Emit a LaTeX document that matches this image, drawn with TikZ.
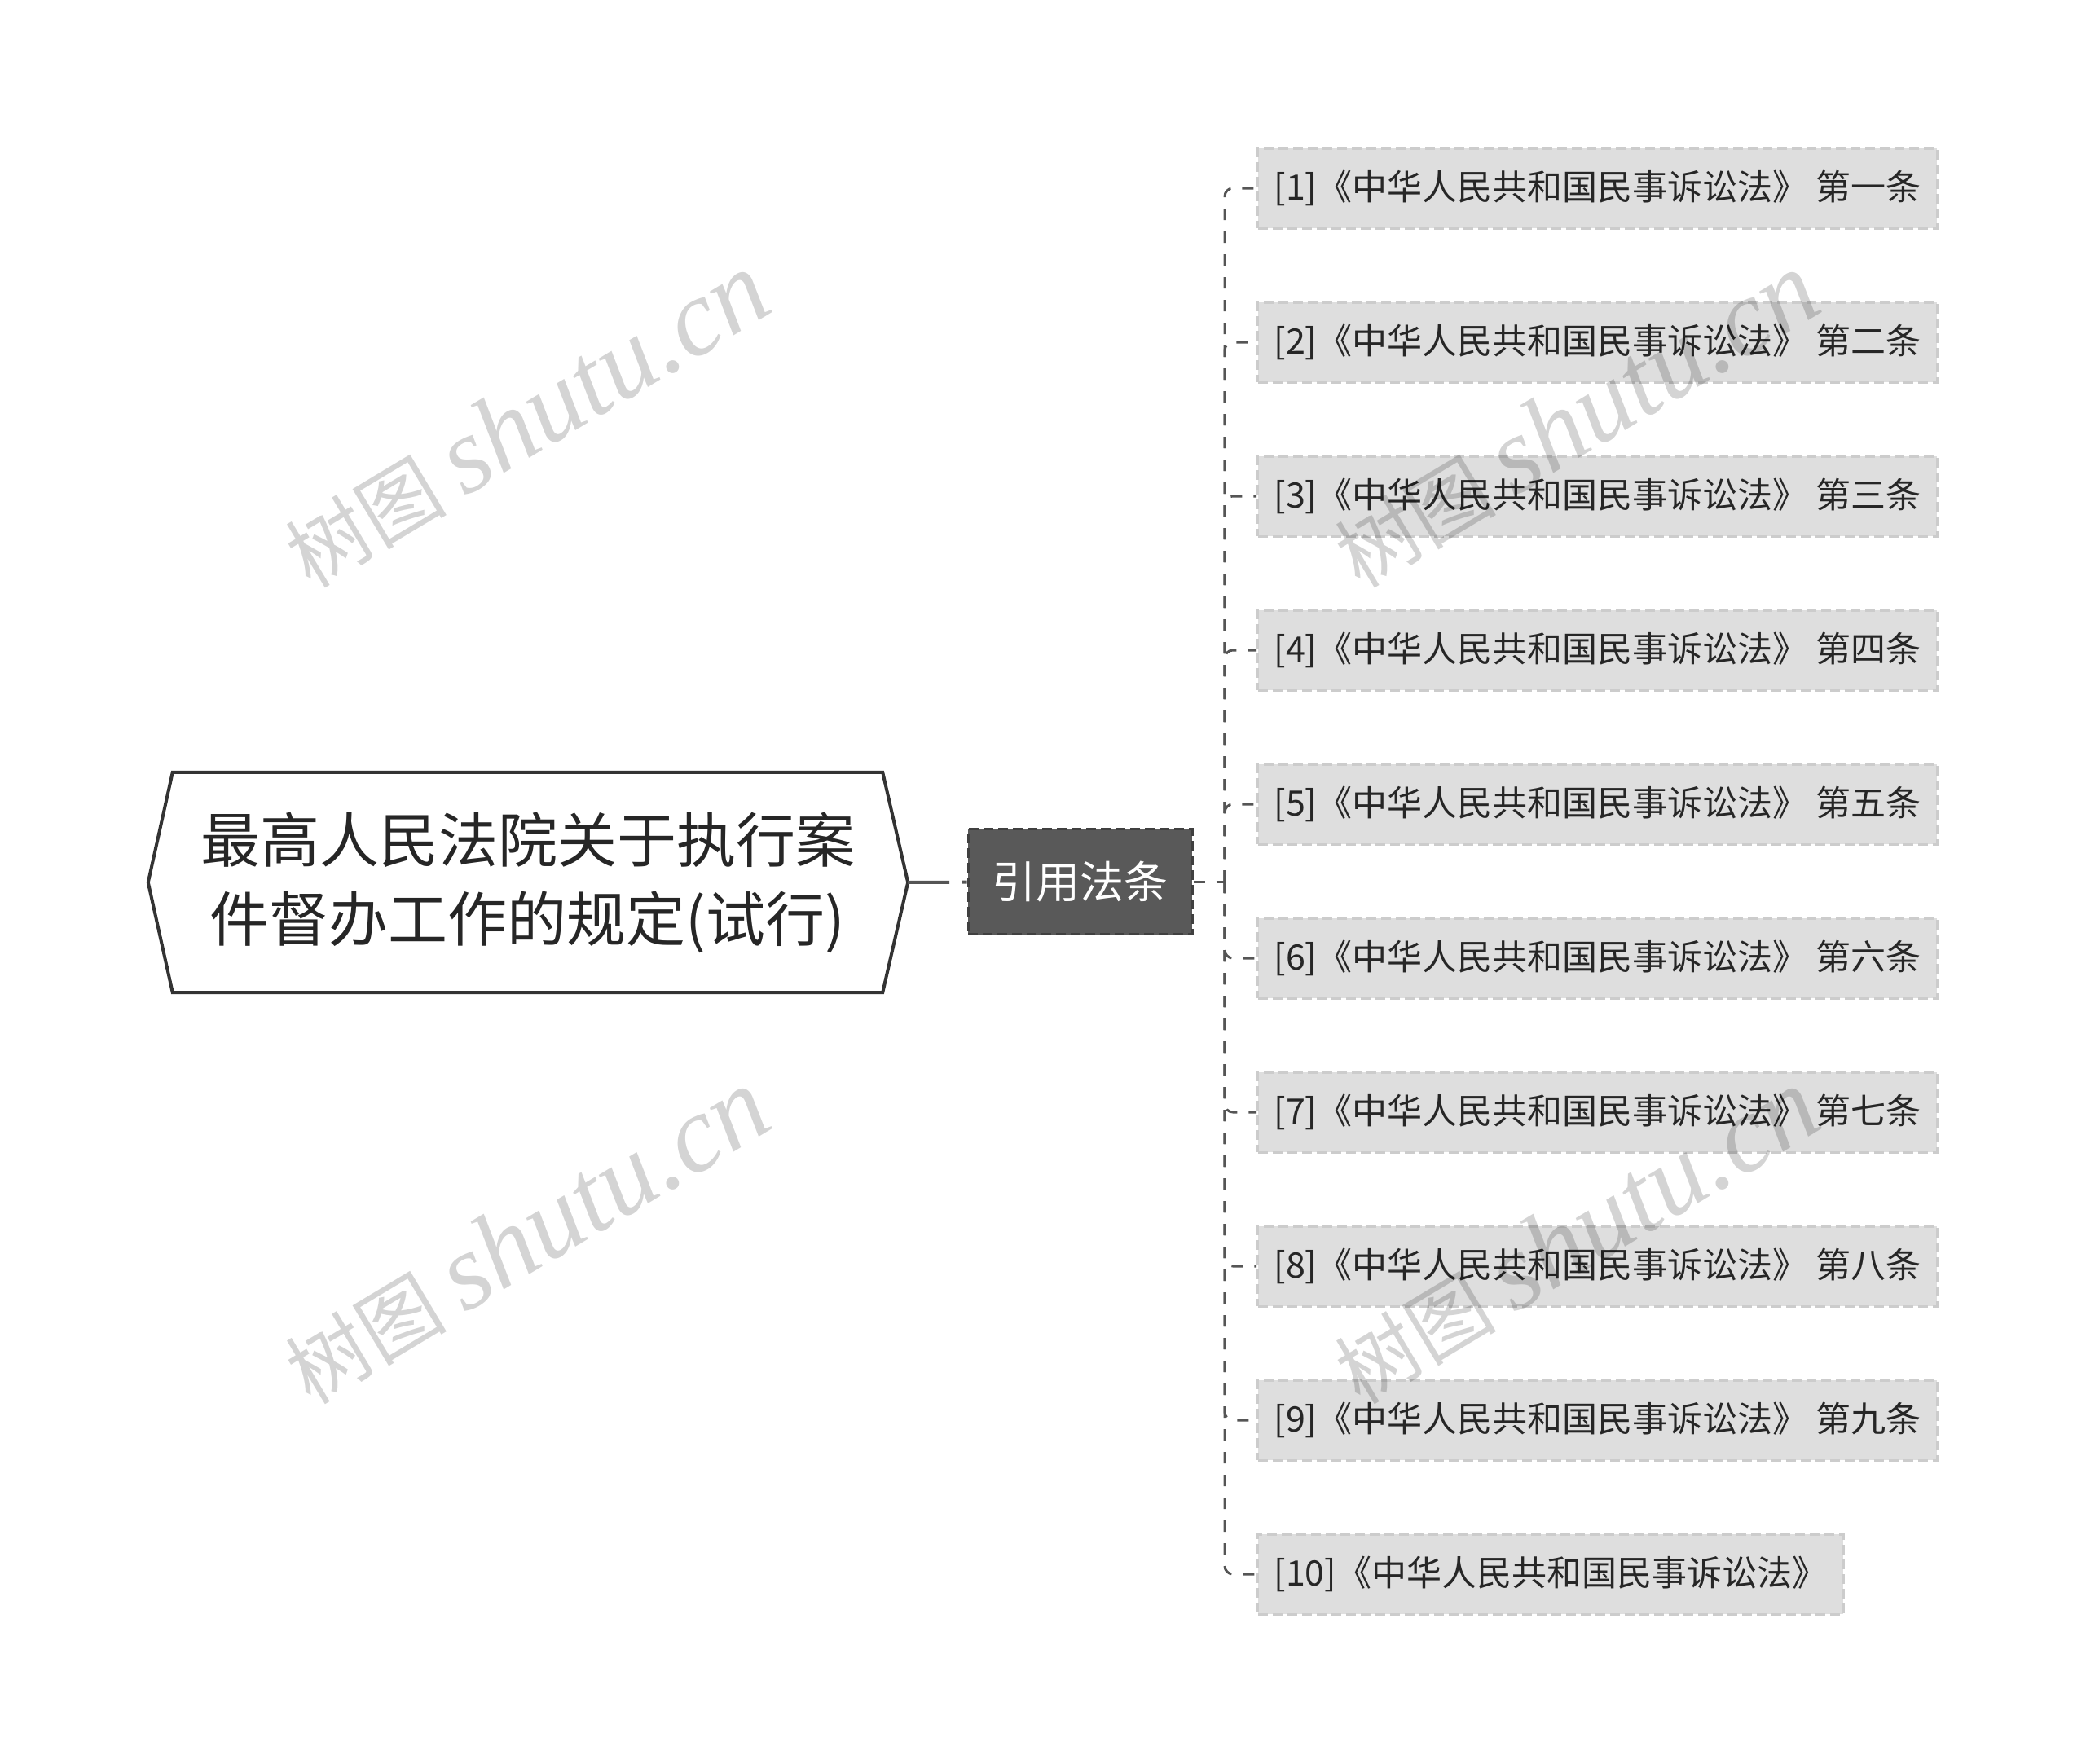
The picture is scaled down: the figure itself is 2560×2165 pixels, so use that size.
\documentclass[tikz,border=0pt]{standalone}
\usepackage{fontspec}
\setmainfont{Noto Sans CJK SC}
\newfontfamily\latinserif{Liberation Serif}
\definecolor{rootline}{HTML}{333333}
\definecolor{midfill}{HTML}{595959}
\definecolor{midline}{HTML}{404040}
\definecolor{leaffill}{HTML}{DEDEDE}
\definecolor{leafline}{HTML}{CCCCCC}
\definecolor{linkgray}{HTML}{555555}
\definecolor{textgray}{HTML}{262626}

\begin{document}
\begin{tikzpicture}[x=1pt,y=-1pt,
  rootbox/.style={minimum width=871pt,minimum height=270pt,inner sep=0pt,align=center,text=textgray,font=\fontsize{73}{97}\selectfont},
  midbox/.style={fill=midfill,draw=midline,line width=3pt,dash pattern=on 12pt off 6pt,minimum width=275pt,minimum height=129pt,inner sep=0pt,text=white,font=\fontsize{54}{60}\selectfont},
  leafbox/.style={fill=leaffill,draw=leafline,line width=3pt,dash pattern=on 12pt off 6pt,minimum height=98pt,inner xsep=20pt,inner ysep=0pt,anchor=west,text=textgray,font=\fontsize{43}{50}\selectfont},
  rootlink/.style={draw=linkgray,line width=4pt,dash pattern=on 51pt off 15pt},
  link/.style={draw=linkgray,line width=3pt,dash pattern=on 14pt off 14pt,rounded corners=10pt},
  wmtext/.style={text=black,text opacity=0.17,inner sep=0pt,rotate=31,font=\fontsize{99}{104}\selectfont}]

\useasboundingbox (0,0) rectangle (2560,2165);

% root topic
\node[rootbox] (root) at (647.5,1083) {最高人民法院关于执行案\\件督办工作的规定(试行)};
\draw[rootline,line width=4pt] (root.north west) -- (root.north east) -- ([xshift=31pt]root.east) coordinate (roottip) -- (root.south east) -- (root.south west) -- ([xshift=-30pt]root.west) -- cycle;

% branch
\node[midbox] (mid) at (1325.5,1082) {引用法条};
\draw[rootlink] (roottip) -- (mid);
\coordinate (fork) at (1503,1082);
\draw[link] (mid) -- (fork);

% cited articles
\node[leafbox] (law1) at (1542,231) {[1]《中华人民共和国民事诉讼法》 第一条};
\node[leafbox] (law2) at (1542,420) {[2]《中华人民共和国民事诉讼法》 第二条};
\node[leafbox] (law3) at (1542,609) {[3]《中华人民共和国民事诉讼法》 第三条};
\node[leafbox] (law4) at (1542,798) {[4]《中华人民共和国民事诉讼法》 第四条};
\node[leafbox] (law5) at (1542,987) {[5]《中华人民共和国民事诉讼法》 第五条};
\node[leafbox] (law6) at (1542,1176) {[6]《中华人民共和国民事诉讼法》 第六条};
\node[leafbox] (law7) at (1542,1365) {[7]《中华人民共和国民事诉讼法》 第七条};
\node[leafbox] (law8) at (1542,1554) {[8]《中华人民共和国民事诉讼法》 第八条};
\node[leafbox] (law9) at (1542,1743) {[9]《中华人民共和国民事诉讼法》 第九条};
\node[leafbox] (law10) at (1542,1932) {[10]《中华人民共和国民事诉讼法》};
\draw[link] (fork) |- (law1);
\draw[link] (fork) |- (law2);
\draw[link] (fork) |- (law3);
\draw[link] (fork) |- (law4);
\draw[link] (fork) |- (law5);
\draw[link] (fork) |- (law6);
\draw[link] (fork) |- (law7);
\draw[link] (fork) |- (law8);
\draw[link] (fork) |- (law9);
\draw[link] (fork) |- (law10);

% watermarks
\node[wmtext] (wm1) at (646,516) {树图 {\latinserif\itshape\fontsize{133}{138}\selectfont shutu.cn}};
\node[wmtext] (wm2) at (1934,516) {树图 {\latinserif\itshape\fontsize{133}{138}\selectfont shutu.cn}};
\node[wmtext] (wm3) at (646,1518) {树图 {\latinserif\itshape\fontsize{133}{138}\selectfont shutu.cn}};
\node[wmtext] (wm4) at (1934,1518) {树图 {\latinserif\itshape\fontsize{133}{138}\selectfont shutu.cn}};
\end{tikzpicture}
\end{document}
